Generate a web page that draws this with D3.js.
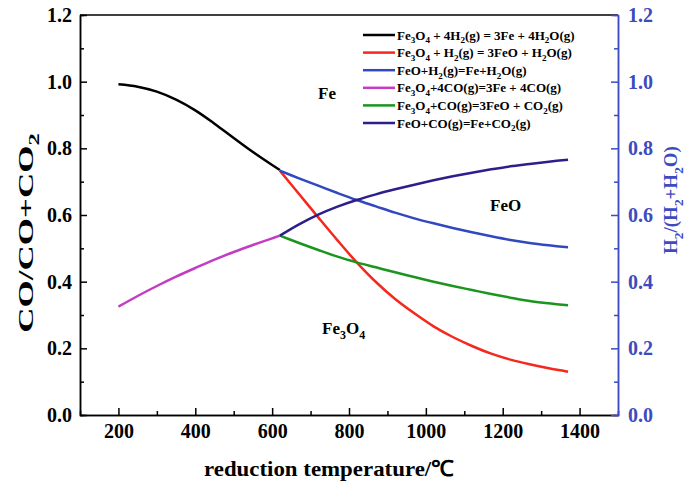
<!DOCTYPE html>
<html>
<head>
<meta charset="utf-8">
<script src="https://cdn.jsdelivr.net/npm/d3@7"></script>
<style>
  body { margin: 0; background: #fff; }
  text { font-family: "Liberation Serif", "Times New Roman", serif; font-weight: bold; }
</style>
</head>
<body>
<svg id="chart" width="686" height="484"></svg>
<script>
// temperatures (°C)
const tempsLow = [200, 250, 300, 350, 400, 450, 500, 550, 600, 620];
const tempsHigh = [620, 670, 720, 770, 820, 870, 920, 970, 1020, 1070, 1120, 1170, 1220, 1270, 1320, 1370];

// equilibrium gas fractions
const fe3o4H2Fe = [0.992, 0.985, 0.970, 0.946, 0.914, 0.874, 0.831, 0.789, 0.750, 0.735];
const fe3o4H2FeO = [0.733, 0.663, 0.593, 0.524, 0.458, 0.399, 0.348, 0.305, 0.266, 0.234, 0.207, 0.184, 0.166, 0.152, 0.140, 0.130];
const feoH2Fe = [0.733, 0.710, 0.688, 0.666, 0.645, 0.626, 0.607, 0.590, 0.575, 0.561, 0.548, 0.536, 0.525, 0.516, 0.509, 0.503];
const fe3o4COFe = [0.325, 0.357, 0.387, 0.415, 0.441, 0.466, 0.489, 0.510, 0.530, 0.538];
const fe3o4COFeO = [0.538, 0.516, 0.495, 0.475, 0.458, 0.443, 0.428, 0.414, 0.400, 0.387, 0.375, 0.363, 0.352, 0.342, 0.335, 0.329];
const feoCOFe = [0.538, 0.572, 0.601, 0.625, 0.645, 0.662, 0.677, 0.691, 0.704, 0.716, 0.727, 0.737, 0.746, 0.753, 0.760, 0.766];

const xTicks = [200, 400, 600, 800, 1000, 1200, 1400];
const yTicks = [0, 0.2, 0.4, 0.6, 0.8, 1.0, 1.2];

// "_" marks a subscript character
const seriesNames = [
  "Fe_3O_4 + 4H_2(g) = 3Fe + 4H_2O(g)",
  "Fe_3O_4 + H_2(g) = 3FeO + H_2O(g)",
  "FeO+H_2(g)=Fe+H_2O(g)",
  "Fe_3O_4+4CO(g)=3Fe + 4CO(g)",
  "Fe_3O_4+CO(g)=3FeO + CO_2(g)",
  "FeO+CO(g)=Fe+CO_2(g)"
];
const seriesColors = ["#000000", "#f5281e", "#3048c0", "#c43cc4", "#1a951e", "#2c1f8c"];

const svg = d3.select("#chart");
const plotL = 80, plotR = 618, plotT = 15, plotB = 415;
const axisBlue = "#3c4bbf";

const x = d3.scaleLinear().domain([100, 1500]).range([plotL, plotR]);
const y = d3.scaleLinear().domain([0, 1.2]).range([plotB, plotT]);

// write a string with subscripts into a text element
function subText(sel, str, size) {
  const parts = str.split(/(_.)/).filter(p => p !== "");
  let shifted = false;
  parts.forEach(function(p) {
    if (p[0] === "_") {
      sel.append("tspan").attr("dy", size * 0.3).attr("font-size", size * 0.7).text(p[1]);
      shifted = true;
    } else {
      sel.append("tspan").attr("dy", shifted ? -size * 0.3 : 0).text(p);
      shifted = false;
    }
  });
  return sel;
}

// frame top line
svg.append("line").attr("x1", plotL).attr("x2", plotR).attr("y1", plotT).attr("y2", plotT)
  .attr("stroke", "#000").attr("stroke-width", 1.5);

// bottom axis
const xMajor = d3.axisBottom(x).tickValues(xTicks).tickSize(-7).tickSizeOuter(0).tickPadding(9).tickFormat(d3.format("d"));
const gx = svg.append("g").attr("transform", "translate(0," + plotB + ")").call(xMajor);
gx.append("g").call(d3.axisBottom(x).tickValues(d3.range(300, 1500, 200)).tickSize(-4).tickFormat(""));
gx.selectAll("path").attr("stroke-width", 1.5);
gx.selectAll("line").attr("stroke-width", 1.5);
gx.selectAll("text").attr("font-size", 20).attr("fill", "#000")
  .style("font-family", "Liberation Serif").style("font-weight", "bold");

// left axis
const yMajor = d3.axisLeft(y).tickValues(yTicks).tickSize(-7).tickSizeOuter(0).tickPadding(8).tickFormat(d3.format(".1f"));
const gy = svg.append("g").attr("transform", "translate(" + plotL + ",0)").call(yMajor);
gy.append("g").call(d3.axisLeft(y).tickValues(d3.range(0.1, 1.2, 0.2)).tickSize(-4).tickFormat(""));
gy.selectAll("path").attr("stroke-width", 1.5);
gy.selectAll("line").attr("stroke-width", 1.5);
gy.selectAll("text").attr("font-size", 20).attr("fill", "#000")
  .style("font-family", "Liberation Serif").style("font-weight", "bold");

// right axis (blue)
const yRight = d3.axisRight(y).tickValues(yTicks).tickSize(-7).tickSizeOuter(0).tickPadding(10).tickFormat(d3.format(".1f"));
const gr = svg.append("g").attr("transform", "translate(" + plotR + ",0)").call(yRight);
gr.append("g").call(d3.axisRight(y).tickValues(d3.range(0.1, 1.2, 0.2)).tickSize(-4).tickFormat(""));
gr.selectAll("path").attr("stroke", axisBlue).attr("stroke-width", 1.5);
gr.selectAll("line").attr("stroke", axisBlue).attr("stroke-width", 1.5);
gr.selectAll("text").attr("font-size", 20).attr("fill", axisBlue)
  .style("font-family", "Liberation Serif").style("font-weight", "bold");

// curves
const line = d3.line().x(d => x(d[0])).y(d => y(d[1])).curve(d3.curveCatmullRom.alpha(0.5));
const seriesData = [
  d3.zip(tempsLow, fe3o4H2Fe),
  d3.zip(tempsHigh, fe3o4H2FeO),
  d3.zip(tempsHigh, feoH2Fe),
  d3.zip(tempsLow, fe3o4COFe),
  d3.zip(tempsHigh, fe3o4COFeO),
  d3.zip(tempsHigh, feoCOFe)
];
seriesData.forEach(function(d, i) {
  svg.append("path").datum(d).attr("d", line)
    .attr("fill", "none").attr("stroke", seriesColors[i]).attr("stroke-width", 2.5);
});

// legend
seriesNames.forEach(function(name, i) {
  const ly = 35 + i * 17.6;
  svg.append("line").attr("x1", 363).attr("x2", 395).attr("y1", ly).attr("y2", ly)
    .attr("stroke", seriesColors[i]).attr("stroke-width", 2.5);
  subText(svg.append("text").attr("x", 397).attr("y", ly + 4.5).attr("font-size", 13), name, 13);
});

// phase region labels
subText(svg.append("text").attr("x", 318).attr("y", 99).attr("font-size", 17), "Fe", 17);
subText(svg.append("text").attr("x", 490).attr("y", 211).attr("font-size", 17), "FeO", 17);
subText(svg.append("text").attr("x", 322).attr("y", 334).attr("font-size", 17), "Fe_3O_4", 17);

// axis titles
svg.append("text").attr("x", 329).attr("y", 476).attr("text-anchor", "middle")
  .attr("font-size", 22).attr("textLength", 250).attr("lengthAdjust", "spacingAndGlyphs")
  .text("reduction temperature/\u2103");

// left title is drawn stretched along its length, as in the source figure
subText(svg.append("text").attr("transform", "translate(33,233) rotate(-90) scale(1.75,1)")
  .attr("text-anchor", "middle").attr("font-size", 20), "CO/CO+CO_2", 20);

subText(svg.append("text").attr("transform", "translate(677,200) rotate(-90)")
  .attr("text-anchor", "middle").attr("font-size", 19).attr("fill", axisBlue), "H_2/(H_2+H_2O)", 19);
</script>
</body>
</html>
